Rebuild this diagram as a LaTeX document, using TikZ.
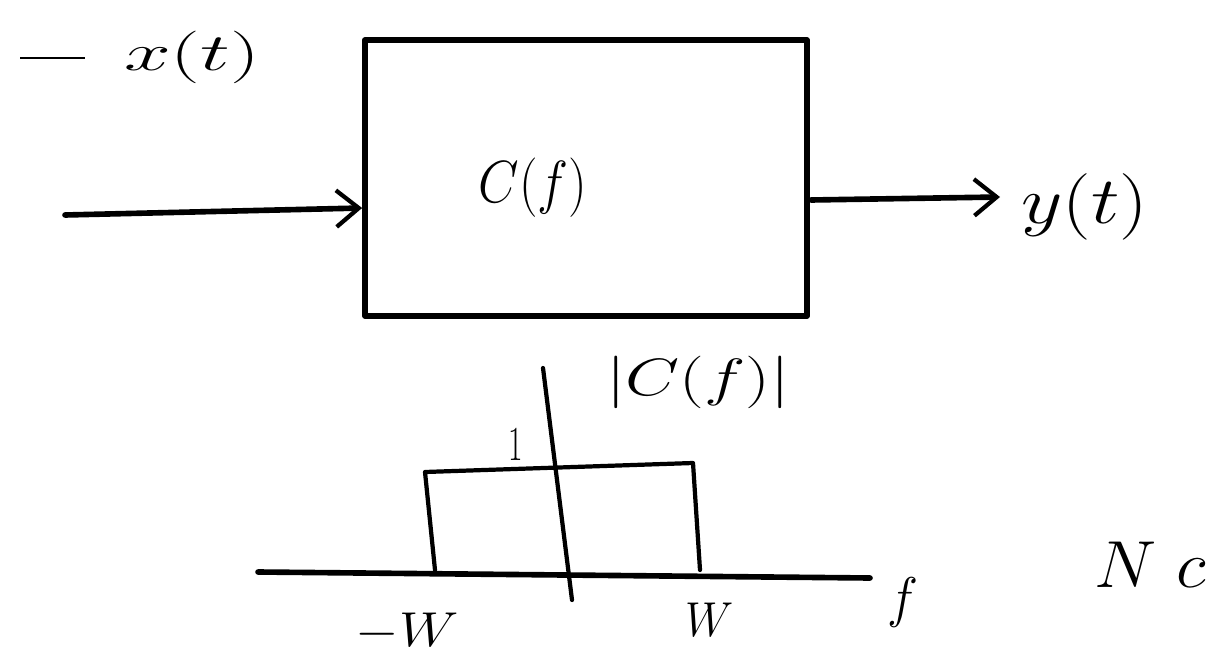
\documentclass[tikz,border=0pt]{standalone}
\usetikzlibrary{arrows.meta}
\tikzset{
  ink/.style={line width=4pt, line cap=round, line join=round},
  thinink/.style={line width=3pt, line cap=round, line join=round},
  barb/.style={-{Straight Barb[length=16pt,width=26pt,line width=3pt]}},
  lbl/.style={inner sep=0pt, font=\fontsize{36}{40}\selectfont}
}
\begin{document}
\begin{tikzpicture}[x=0.025cm,y=-0.025cm]
\useasboundingbox (0,0) rectangle (1210,656);
% system block
\node (box) [draw, ink, minimum width=11.05cm, minimum height=6.9cm, inner sep=0pt] at (586,178) {};
\node (cf) [lbl] at (533,188) {\scalebox{1.5}[1.7]{$C(f)$}};
% input
\coordinate (in) at (65,215);
\draw[ink, barb] (in) -- (box.west |- 0,208);
\coordinate (dashA) at (20,58);
\coordinate (dashB) at (85,58);
\draw[line width=1.5pt] (dashA) -- (dashB);
\node (xt) [lbl] at (192,57) {\scalebox{2.4}[1.5]{$x(t)$}};
% output
\coordinate (outstart) at (811,200);
\coordinate (outend) at (1000,197);
\draw[ink, barb] (outstart) -- (outend);
\node (yt) [lbl] at (1085,207) {\scalebox{2.3}[1.9]{$y(t)$}};
% magnitude plot
\coordinate (ax1) at (258,572);
\coordinate (ax2) at (870,578);
\draw[ink] (ax1) -- (ax2);
\coordinate (vy1) at (543,368);
\coordinate (vy2) at (572,600);
\draw[thinink] (vy1) -- (vy2);
\coordinate (r1) at (435,570);
\coordinate (r2) at (425,472);
\coordinate (r3) at (693,463);
\coordinate (r4) at (700,570);
\draw[thinink] (r1) -- (r2) -- (r3) -- (r4);
\node (mag) [lbl] at (698,382) {\scalebox{2.0}[1.5]{$|C(f)|$}};
\node (one) [lbl] at (516,445) {\scalebox{0.9}[1.4]{$1$}};
\node (mw) [lbl] at (407,632) {\scalebox{1.6}[1.4]{$-W$}};
\node (pw) [lbl] at (710,620) {\scalebox{1.3}[1.4]{$W$}};
\node (fl) [lbl] at (903,603) {\scalebox{1.5}[1.6]{$f$}};
\node (nc) [lbl, anchor=east] at (1206,565) {\scalebox{2.0}[1.9]{$N\;c$}};
\end{tikzpicture}
\end{document}
